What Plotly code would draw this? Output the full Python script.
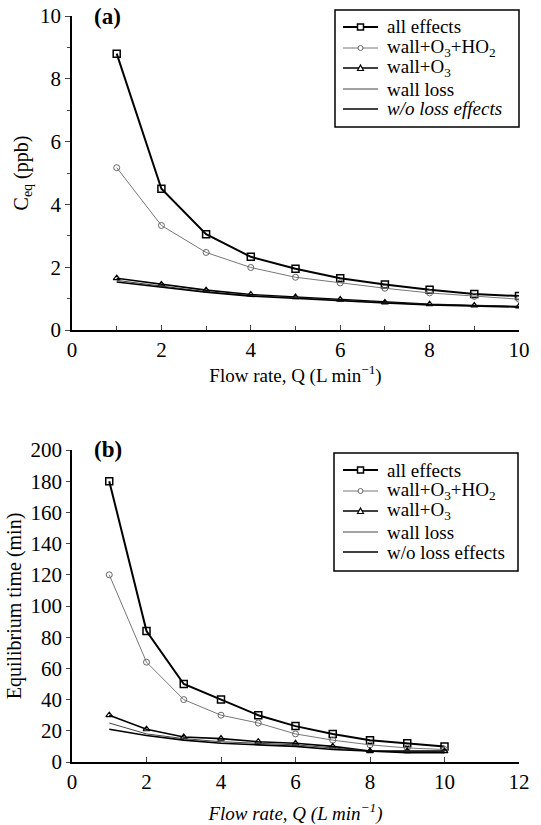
import plotly.graph_objects as go

flow = [1, 2, 3, 4, 5, 6, 7, 8, 9, 10]

# Panel (a): equilibrium concentration (ppb)
ceq_all = [8.8, 4.5, 3.05, 2.33, 1.95, 1.65, 1.45, 1.28, 1.15, 1.08]
ceq_ho2 = [5.17, 3.33, 2.47, 1.99, 1.68, 1.50, 1.33, 1.18, 1.07, 0.98]
ceq_o3 = [1.65, 1.45, 1.27, 1.13, 1.05, 0.97, 0.88, 0.82, 0.78, 0.75]
ceq_wall = [1.58, 1.40, 1.22, 1.10, 1.02, 0.95, 0.87, 0.81, 0.77, 0.74]
ceq_none = [1.53, 1.36, 1.20, 1.08, 1.00, 0.93, 0.86, 0.80, 0.76, 0.73]

# Panel (b): equilibrium time (min)
teq_all = [180, 84, 50, 40, 30, 23, 18, 14, 12, 10]
teq_ho2 = [120, 64, 40, 30, 25, 18, 14, 11, 9, 8]
teq_o3 = [30, 21, 16, 15, 13, 12, 10, 7, 7, 7]
teq_wall = [25, 18, 15, 13, 12, 11, 9, 7, 7, 7]
teq_none = [21, 17, 14, 12, 11, 10, 8, 7, 6, 6]

names_a = ["all effects", "wall+O<sub>3</sub>+HO<sub>2</sub>", "wall+O<sub>3</sub>",
           "wall loss", "<i>w/o loss effects</i>"]
names_b = ["all effects", "wall+O<sub>3</sub>+HO<sub>2</sub>", "wall+O<sub>3</sub>",
           "wall loss", "w/o loss effects"]

FONT = "Liberation Serif"
W, H = 541, 825


def fx(px):
    return px / W


def fy(py):
    return 1 - py / H


styles = [
    dict(line=dict(color="black", width=2), marker=dict(symbol="square-open", size=7, color="black", line=dict(width=1.5)), mode="lines+markers"),
    dict(line=dict(color="#777777", width=1), marker=dict(symbol="circle-open", size=6, color="#666666", line=dict(width=1)), mode="lines+markers"),
    dict(line=dict(color="black", width=1.6), marker=dict(symbol="triangle-up-open", size=6, color="black", line=dict(width=1.2)), mode="lines+markers"),
    dict(line=dict(color="#444444", width=1), mode="lines"),
    dict(line=dict(color="black", width=1.6), mode="lines"),
]
legend_markers = ["square", "circle", "triangle", None, None]

fig = go.Figure()
series_a = [ceq_all, ceq_ho2, ceq_o3, ceq_wall, ceq_none]
series_b = [teq_all, teq_ho2, teq_o3, teq_wall, teq_none]
for ys, nm, st in zip(series_a, names_a, styles):
    fig.add_trace(go.Scatter(x=flow, y=ys, name=nm, xaxis="x", yaxis="y", showlegend=False, **st))
for ys, nm, st in zip(series_b, names_b, styles):
    fig.add_trace(go.Scatter(x=flow, y=ys, name=nm, xaxis="x2", yaxis="y2", showlegend=False, **st))

axis_common = dict(showline=True, linecolor="black", linewidth=1.5, showgrid=False, zeroline=False,
                   tickfont=dict(family=FONT, size=21, color="black"), automargin=False)

x_dom = [fx(72), fx(519)]
ya_dom = [fy(330), fy(16)]
yb_dom = [fy(762), fy(450)]

shapes = []
annotations = [
    dict(text="<b>(a)</b>", x=fx(92), y=fy(2), xref="paper", yref="paper",
         xanchor="left", yanchor="top", showarrow=False, font=dict(family=FONT, size=23, color="black")),
    dict(text="<b>(b)</b>", x=fx(92), y=fy(435), xref="paper", yref="paper",
         xanchor="left", yanchor="top", showarrow=False, font=dict(family=FONT, size=23, color="black")),
]


def add_legend(box, rows, names):
    x0, y0, x1, y1 = box
    shapes.append(dict(type="rect", xref="paper", yref="paper", x0=fx(x0), y0=fy(y1), x1=fx(x1), y1=fy(y0),
                       line=dict(color="black", width=1.5), fillcolor="white", layer="above"))
    for yc, nm, st, mk in zip(rows, names, styles, legend_markers):
        ln = st["line"]
        shapes.append(dict(type="line", xref="paper", yref="paper", x0=fx(343), x1=fx(378), y0=fy(yc), y1=fy(yc),
                           line=dict(color=ln["color"], width=ln["width"]), layer="above"))
        mc = st.get("marker", {}).get("color", "black")
        if mk == "square":
            shapes.append(dict(type="rect", xref="paper", yref="paper", x0=fx(357.5), x1=fx(363.5),
                               y0=fy(yc + 3), y1=fy(yc - 3), line=dict(color=mc, width=1.5),
                               fillcolor="white", layer="above"))
        elif mk == "circle":
            shapes.append(dict(type="circle", xref="paper", yref="paper", x0=fx(358), x1=fx(363),
                               y0=fy(yc + 2.5), y1=fy(yc - 2.5), line=dict(color=mc, width=1),
                               fillcolor="white", layer="above"))
        elif mk == "triangle":
            path = "M {} {} L {} {} L {} {} Z".format(fx(357.5), fy(yc + 2.5), fx(363.5), fy(yc + 2.5),
                                                       fx(360.5), fy(yc - 3))
            shapes.append(dict(type="path", xref="paper", yref="paper", path=path,
                               line=dict(color=mc, width=1.2), fillcolor="white", layer="above"))
        annotations.append(dict(text=nm, x=fx(385), y=fy(yc), xref="paper", yref="paper",
                                xanchor="left", yanchor="middle", showarrow=False,
                                font=dict(family=FONT, size=19, color="black")))


add_legend((335, 10, 519, 127), [27, 48, 68, 89, 109], names_a)
add_legend((334, 453, 518, 571), [470, 491, 511, 532, 552], names_b)

fig.update_layout(
    width=W, height=H,
    margin=dict(l=0, r=0, t=0, b=0),
    paper_bgcolor="white", plot_bgcolor="white",
    font=dict(family=FONT, color="black"),
    showlegend=False,
    xaxis=dict(domain=x_dom, anchor="y", range=[0, 10], dtick=2, ticks="inside", ticklen=5,
               minor=dict(dtick=1, ticks="inside", ticklen=4),
               title=dict(text="Flow rate, Q (L min<sup>−1</sup>)", font=dict(family=FONT, size=19), standoff=3),
               **axis_common),
    yaxis=dict(domain=ya_dom, anchor="x", range=[0, 10], dtick=2, ticks="outside", ticklen=5,
               minor=dict(dtick=1, ticks="outside", ticklen=3),
               title=dict(text="C<sub>eq</sub> (ppb)", font=dict(family=FONT, size=20), standoff=6),
               **axis_common),
    xaxis2=dict(domain=x_dom, anchor="y2", range=[0, 12], dtick=2, ticks="inside", ticklen=5,
                title=dict(text="<i>Flow rate, Q (L min<sup>−1</sup>)</i>", font=dict(family=FONT, size=19), standoff=16),
                **axis_common),
    yaxis2=dict(domain=yb_dom, anchor="x2", range=[0, 200], dtick=20, ticks="outside", ticklen=4,
                title=dict(text="Equilibrium time (min)", font=dict(family=FONT, size=20), standoff=4),
                **axis_common),
    shapes=shapes,
    annotations=annotations,
)

fig.write_html("out.html")
